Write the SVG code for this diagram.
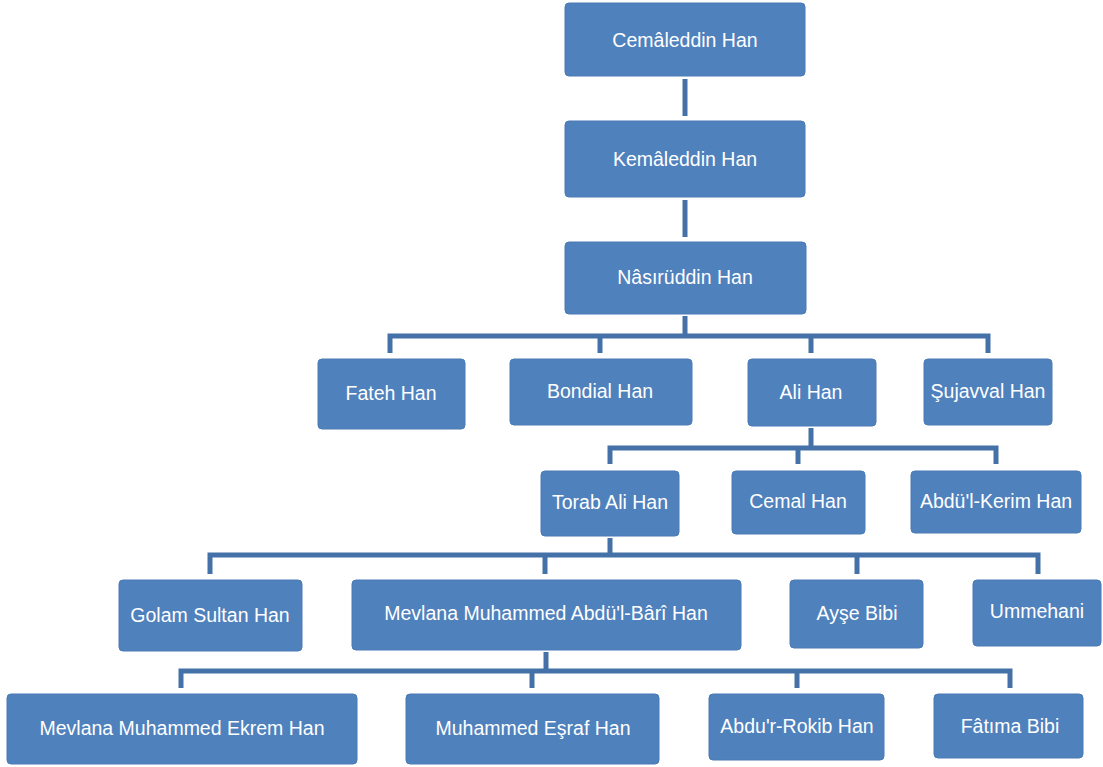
<svg xmlns="http://www.w3.org/2000/svg" width="1103" height="767" viewBox="0 0 1103 767">
<style>
.n rect{fill:#4F81BD;stroke:#4A7AB5;stroke-width:1}
.n text{fill:#FFFFFF;font-family:"Liberation Sans",Arial,sans-serif;font-size:19.5px;text-anchor:middle;dominant-baseline:central}
#connectors path{fill:none;stroke:#4472A8;stroke-width:5;stroke-linecap:butt;stroke-linejoin:miter}
</style>
<rect width="1103" height="767" fill="#FFFFFF"/>
<g id="connectors">
<path d="M685,79V116"/>
<path d="M685,200V237"/>
<path d="M685,316V336M390,353V336H988V353M600,336V353M811,336V353"/>
<path d="M811,428V448M610,464V448H996V464M798,448V464"/>
<path d="M610,538V555M210,574V555H1038V574M545,555V574M857,555V574"/>
<path d="M546,652V671M181,688V671H1010V688M532,671V688M797,671V688"/>
</g>
<g id="n1" class="n"><rect x="565" y="3" width="240" height="73" rx="4"/><text x="685" y="40">Cemâleddin Han</text></g>
<g id="n2" class="n"><rect x="565" y="121" width="240" height="76" rx="4"/><text x="685" y="159">Kemâleddin Han</text></g>
<g id="n3" class="n"><rect x="565" y="242" width="241" height="72" rx="4"/><text x="685" y="277">Nâsırüddin Han</text></g>
<g id="n4" class="n"><rect x="318" y="359" width="147" height="70" rx="4"/><text x="391" y="393">Fateh Han</text></g>
<g id="n5" class="n"><rect x="510" y="359" width="182" height="66" rx="4"/><text x="600" y="391">Bondial Han</text></g>
<g id="n6" class="n"><rect x="748" y="359" width="128" height="67" rx="4"/><text x="811" y="392">Ali Han</text></g>
<g id="n7" class="n"><rect x="924" y="359" width="128" height="66" rx="4"/><text x="988" y="391">Şujavval Han</text></g>
<g id="n8" class="n"><rect x="541" y="471" width="138" height="65" rx="4"/><text x="610" y="502">Torab Ali Han</text></g>
<g id="n9" class="n"><rect x="732" y="471" width="133" height="63" rx="4"/><text x="798" y="501">Cemal Han</text></g>
<g id="n10" class="n"><rect x="911" y="471" width="170" height="62" rx="4"/><text x="996" y="501">Abdü'l-Kerim Han</text></g>
<g id="n11" class="n"><rect x="119" y="580" width="183" height="71" rx="4"/><text x="210" y="615">Golam Sultan Han</text></g>
<g id="n12" class="n"><rect x="352" y="580" width="389" height="70" rx="4"/><text x="546" y="613">Mevlana Muhammed Abdü'l-Bârî Han</text></g>
<g id="n13" class="n"><rect x="790" y="580" width="133" height="68" rx="4"/><text x="857" y="613">Ayşe Bibi</text></g>
<g id="n14" class="n"><rect x="973" y="580" width="128" height="66" rx="4"/><text x="1037" y="611">Ummehani</text></g>
<g id="n15" class="n"><rect x="7" y="694" width="350" height="70" rx="4"/><text x="182" y="728">Mevlana Muhammed Ekrem Han</text></g>
<g id="n16" class="n"><rect x="406" y="694" width="253" height="70" rx="4"/><text x="533" y="728">Muhammed Eşraf Han</text></g>
<g id="n17" class="n"><rect x="709" y="694" width="175" height="66" rx="4"/><text x="797" y="726">Abdu'r-Rokib Han</text></g>
<g id="n18" class="n"><rect x="934" y="694" width="149" height="64" rx="4"/><text x="1010" y="726">Fâtıma Bibi</text></g>
</svg>
